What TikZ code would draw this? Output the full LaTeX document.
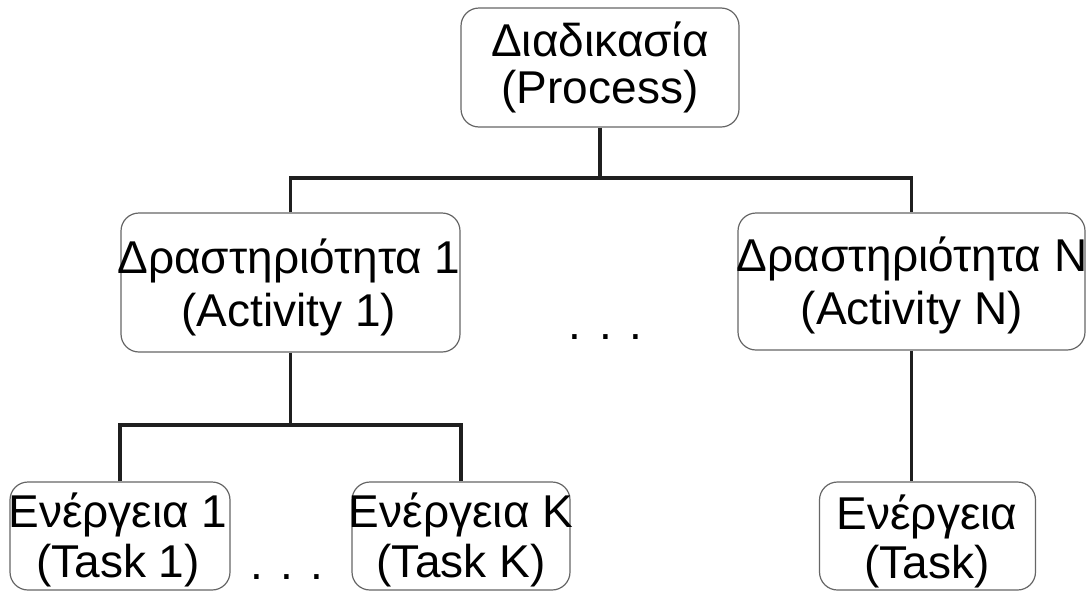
\documentclass[tikz,border=0pt]{standalone}
\usepackage{fontspec}
\setmainfont{Liberation Sans}
\begin{document}
\begin{tikzpicture}[x=1pt,y=-1pt,
  box/.style={draw=black!60, line width=1.2pt, rounded corners=18pt, fill=white,
    inner sep=0pt},
  txt/.style={align=center, inner sep=0pt,
    font={\fontsize{46}{#1}\selectfont\lineskiplimit=-60pt}},
  conn/.style={draw=black!88, line width=3.6pt},
  dotsrow/.style={inner sep=0pt, anchor=base,
    font={\fontsize{46}{48}\selectfont}}]
  \useasboundingbox (0,0) rectangle (1091,592);

  % boxes of the hierarchy
  \node[box, minimum width=278pt, minimum height=119pt] (proc) at (600,67.5) {};
  \node[box, minimum width=339pt, minimum height=139pt] (act1) at (290.5,282.5) {};
  \node[box, minimum width=347pt, minimum height=137pt] (actN) at (911.5,281.5) {};
  \node[box, minimum width=220pt, minimum height=108pt] (t1) at (120,536) {};
  \node[box, minimum width=218pt, minimum height=108pt] (tK) at (461,536) {};
  \node[box, minimum width=216pt, minimum height=108pt] (tN) at (927.5,536) {};

  % two-line captions of the boxes
  \node[txt=47] (procT) at (600,67.5) {Διαδικασία\\(Process)};
  \node[txt=53] (act1T) at (289,287) {Δραστηριότητα 1\\(Activity 1)};
  \node[txt=53] (actNT) at (912,285.5) {Δραστηριότητα N\\(Activity N)};
  \node[txt=50] (t1T) at (118,540) {Ενέργεια 1\\(Task 1)};
  \node[txt=50] (tKT) at (461,540) {Ενέργεια K\\(Task K)};
  \node[txt=49] (tNT) at (927,541.5) {Ενέργεια\\(Task)};

  % junction points of the tree
  \coordinate (j1) at (600,178);
  \coordinate (j2) at (290.5,425);

  % connectors
  \draw[conn] (proc.south) -- (j1);
  \draw[conn] (act1.north) |- (j1) -| (actN.north);
  \draw[conn] (act1.south) -- (j2);
  \draw[conn] (t1.north) |- (j2) -| (tK.north);
  \draw[conn] (actN.south) -- (actN.south |- tN.north);

  % ellipses
  \node[dotsrow] (dmid) at (605.5,339) {.\hspace{17.4pt}.\hspace{17.4pt}.};
  \node[dotsrow] (dlow) at (287,579) {.\hspace{17.4pt}.\hspace{17.4pt}.};
\end{tikzpicture}
\end{document}
